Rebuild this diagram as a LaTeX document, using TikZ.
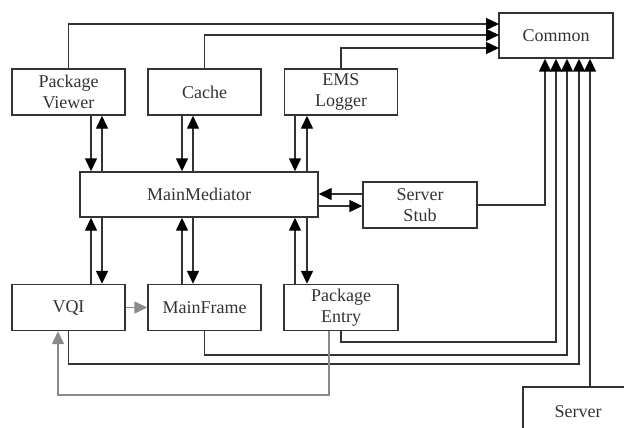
\documentclass[tikz,border=0pt]{standalone}
\usepackage{fontspec}
\setmainfont{Liberation Serif}
\usetikzlibrary{arrows.meta,calc}
\definecolor{ink}{HTML}{333333}
\definecolor{soft}{HTML}{8A8A8A}
\begin{document}
\begin{tikzpicture}[x=1pt,y=-1pt,
  box/.style={draw=ink,line width=1.4pt,rectangle,inner sep=0pt,
    minimum width=113pt,minimum height=46pt,align=center,
    font=\fontsize{18}{21}\selectfont,text=ink},
  link/.style={draw=ink,line width=1.4pt},
  arr/.style={link,-{Triangle[length=13pt,width=12pt,color=black]}},
  garr/.style={draw=soft,line width=1.4pt,-{Triangle[length=13pt,width=12pt]}}]
\useasboundingbox (0,0) rectangle (624,428);

% components
\node[box] (pv) at (68.5,92) {Package\\Viewer};
\node[box] (cache) at (204.5,92) {Cache};
\node[box] (ems) at (341,92) {EMS\\Logger};
\node[box,minimum width=114pt,minimum height=45pt] (common) at (556,35.5) {Common};
\node[box,minimum width=238pt,minimum height=45pt] (mm) at (199,194.5) {MainMediator};
\node[box,minimum width=114pt] (stub) at (420,205) {Server\\Stub};
\node[box] (vqi) at (68.5,307.5) {VQI};
\node[box] (mf) at (204.5,307.5) {MainFrame};
\node[box,minimum width=114pt] (pe) at (341,307.5) {Package\\Entry};
% server box runs off the page edge
\begin{scope}
\clip (0,0) rectangle (624,428);
\draw[link] (523,440) -- (523,387) -- (640,387);
\end{scope}
\node[font=\fontsize{18}{21}\selectfont,text=ink,inner sep=0pt] (server) at (578,412) {Server};
\coordinate (servertop) at (590,387);

% top row to Common
\coordinate (c1) at (499,24);
\coordinate (c2) at (499,35);
\coordinate (c3) at (499,48);
\draw[arr] (pv.north) |- (c1);
\draw[arr] (cache.north) |- (c2);
\draw[arr] (ems.north) |- (c3);

% top row <-> MainMediator
\foreach \n/\a/\b in {pv/91/102,cache/182/193,ems/295/307}{
  \draw[arr] (\n.south -| \a,0) -- (mm.north -| \a,0);
  \draw[arr] (mm.north -| \b,0) -- (\n.south -| \b,0);
}
% bottom row <-> MainMediator
\foreach \n/\a/\b in {vqi/91/102,mf/182/193,pe/295/307}{
  \draw[arr] (\n.north -| \a,0) -- (mm.south -| \a,0);
  \draw[arr] (mm.south -| \b,0) -- (\n.north -| \b,0);
}

% MainMediator <-> Server Stub
\draw[arr] (stub.west |- 0,194) -- (mm.east |- 0,194);
\draw[arr] (mm.east |- 0,206) -- (stub.west |- 0,206);

% feeds into the bottom of Common
\draw[arr] (stub.east) -| (common.south -| 545,0);
\draw[arr] (pe.south -| 341,0) -- (341,342) -| (common.south -| 556,0);
\draw[arr] (mf.south) -- (204.5,355) -| (common.south -| 567,0);
\draw[arr] (vqi.south) -- (68.5,364) -| (common.south -| 579,0);
\draw[arr] (servertop) -- (common.south -| 590,0);

% grey links
\draw[garr] (vqi.east) -- (mf.west);
\draw[garr] (pe.south -| 329,0) -- (329,395) -| (vqi.south -| 58,0);
\end{tikzpicture}
\end{document}
